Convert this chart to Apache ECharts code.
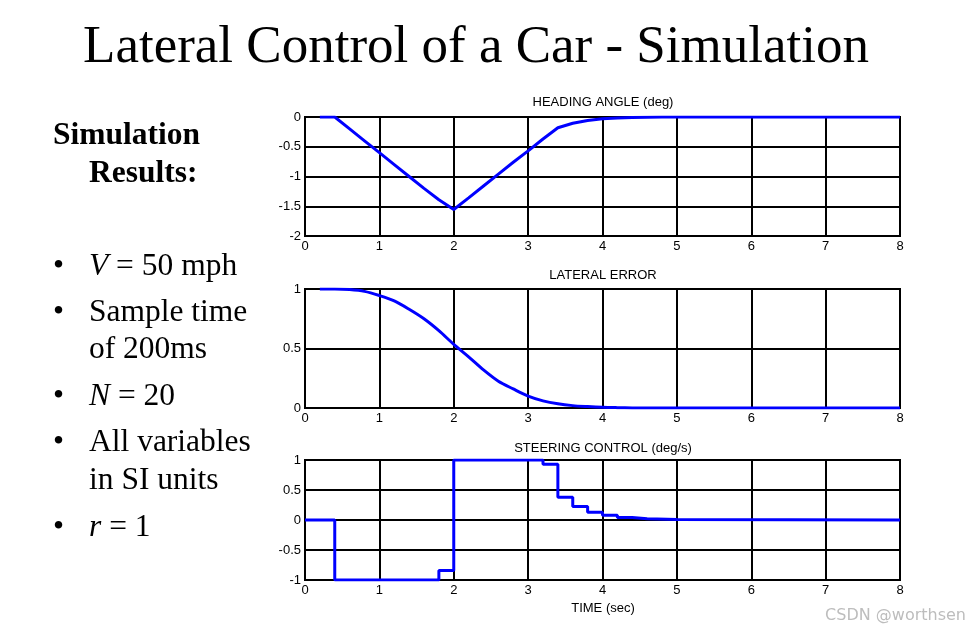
<!DOCTYPE html>
<html>
<head>
<meta charset="utf-8">
<script src="https://cdn.jsdelivr.net/npm/echarts@6/dist/echarts.min.js"></script>
<style>
html,body{margin:0;padding:0;background:#fff;}
#c{width:971px;height:632px;}
</style>
</head>
<body>
<div id="c"></div>
<script>
// ---- data ----
var xTicks = [0, 1, 2, 3, 4, 5, 6, 7, 8];

// sample times (200 ms) for heading angle and lateral error
var sampleTime = [0.2, 0.4, 0.6, 0.8, 1.0, 1.2, 1.4, 1.6, 1.8, 2.0, 2.2, 2.4, 2.6, 2.8, 3.0, 3.2, 3.4, 3.6, 3.8, 4.0, 4.2, 4.4, 4.6, 4.8, 5.0, 8.0];
var headingAngle = [0, 0, -0.2, -0.4, -0.6, -0.8, -1.0, -1.2, -1.39, -1.555, -1.36, -1.16, -0.96, -0.76, -0.57, -0.37, -0.18, -0.105, -0.06, -0.03, -0.015, -0.007, -0.003, -0.001, 0, 0];
var lateralError = [1.0, 1.0, 0.995, 0.98, 0.945, 0.9, 0.83, 0.75, 0.65, 0.535, 0.43, 0.32, 0.225, 0.16, 0.1, 0.06, 0.035, 0.02, 0.012, 0.006, 0.003, 0.001, 0, 0, 0, 0];

// steering control: value held from each time until the next
var steerTime = [0, 0.4, 1.8, 2.0, 3.2, 3.4, 3.6, 3.8, 4.0, 4.2, 4.4, 4.6, 5.0, 8.0];
var steerValue = [0, -1, -0.84, 1, 0.93, 0.38, 0.225, 0.13, 0.08, 0.04, 0.022, 0.01, 0, 0];

var plotTitles = ['HEADING ANGLE (deg)', 'LATERAL ERROR', 'STEERING CONTROL (deg/s)'];
var xAxisName = 'TIME (sec)';
var pageTitle = 'Lateral Control of a Car - Simulation';
var sideHeading = ['Simulation', 'Results:'];
var bullets = [
  ['{i|V} = 50 mph'],
  ['Sample time', 'of 200ms'],
  ['{i|N} = 20'],
  ['All variables', 'in SI units'],
  ['{i|r} = 1']
];
var watermark = 'CSDN @worthsen';

// ---- chart ----
function pairs(xs, ys) { return xs.map(function (x, i) { return [x, ys[i]]; }); }

var chart = echarts.init(document.getElementById('c'));
var SANS = 'Liberation Sans, Arial, sans-serif';
var SERIF = 'Liberation Serif, Times New Roman, serif';

var grids = [
  { left: 305, right: 71, top: 117, height: 119 },
  { left: 305, right: 71, top: 289, height: 119 },
  { left: 305, right: 71, top: 460, height: 120 }
];
var yRanges = [[-2, 0], [0, 1], [-1, 1]];

var xAxes = grids.map(function (g, i) {
  return {
    type: 'value', gridIndex: i, min: 0, max: 8, interval: 1,
    axisLine: { show: true, onZero: false, lineStyle: { color: '#000', width: 2 } },
    axisTick: { show: false },
    splitLine: { show: true, lineStyle: { color: '#000', width: 2 } },
    axisLabel: { color: '#000', fontFamily: SANS, fontSize: 13, margin: 4,
      formatter: function (v) { return xTicks.indexOf(v) >= 0 ? String(v) : ''; } }
  };
});
var yAxes = grids.map(function (g, i) {
  return {
    type: 'value', gridIndex: i, min: yRanges[i][0], max: yRanges[i][1], interval: 0.5,
    axisLine: { show: true, onZero: false, lineStyle: { color: '#000', width: 2 } },
    axisTick: { show: false },
    splitLine: { show: true, lineStyle: { color: '#000', width: 2 } },
    axisLabel: { color: '#000', fontFamily: SANS, fontSize: 13, margin: 4 }
  };
});

var lineStyle = { color: '#0000ff', width: 3 };
var series = [
  { type: 'line', xAxisIndex: 0, yAxisIndex: 0, data: pairs(sampleTime, headingAngle), showSymbol: false, lineStyle: lineStyle, animation: false },
  { type: 'line', xAxisIndex: 1, yAxisIndex: 1, data: pairs(sampleTime, lateralError), showSymbol: false, smooth: 0.3, lineStyle: lineStyle, animation: false },
  { type: 'line', xAxisIndex: 2, yAxisIndex: 2, data: pairs(steerTime, steerValue), step: 'end', showSymbol: false, lineStyle: lineStyle, animation: false }
];

var titleCenters = [102, 275, 448];
var graphic = [];
plotTitles.forEach(function (t, i) {
  graphic.push({ type: 'text', x: 603, y: titleCenters[i],
    style: { text: t, fill: '#000', font: '13px ' + SANS, textAlign: 'center', textVerticalAlign: 'middle' } });
});
graphic.push({ type: 'text', x: 603, y: 608,
  style: { text: xAxisName, fill: '#000', font: '13px ' + SANS, textAlign: 'center', textVerticalAlign: 'middle' } });

graphic.push({ type: 'text', x: 476, y: 48,
  style: { text: pageTitle, fill: '#000', font: '53px ' + SERIF, textAlign: 'center', textVerticalAlign: 'middle' } });

graphic.push({ type: 'text', x: 53, y: 136,
  style: { text: sideHeading[0], fill: '#000', font: 'bold 31.5px ' + SERIF, textAlign: 'left', textVerticalAlign: 'middle' } });
graphic.push({ type: 'text', x: 89, y: 174,
  style: { text: sideHeading[1], fill: '#000', font: 'bold 31.5px ' + SERIF, textAlign: 'left', textVerticalAlign: 'middle' } });

var lineYs = [[266.5], [312.5, 350], [396.5], [442.5, 481], [527.5]];
bullets.forEach(function (b, i) {
  graphic.push({ type: 'text', x: 53, y: lineYs[i][0],
    style: { text: '\u2022', fill: '#000', font: '31.5px ' + SERIF, textAlign: 'left', textVerticalAlign: 'middle' } });
  b.forEach(function (line, j) {
    graphic.push({ type: 'text', x: 89, y: lineYs[i][j],
      style: { text: line, fill: '#000', font: '31.5px ' + SERIF, textAlign: 'left', textVerticalAlign: 'middle',
        rich: { i: { fontStyle: 'italic', fontFamily: SERIF, fontSize: 31.5, fill: '#000' } } } });
  });
});

graphic.push({ type: 'text', x: 966, y: 616,
  style: { text: watermark, fill: '#bdbdbd', font: '16px DejaVu Sans, sans-serif', textAlign: 'right', textVerticalAlign: 'middle' } });

chart.setOption({
  backgroundColor: '#fff',
  animation: false,
  grid: grids.map(function (g) { return Object.assign({ show: true, borderColor: '#000', borderWidth: 2, backgroundColor: 'transparent' }, g); }),
  xAxis: xAxes,
  yAxis: yAxes,
  series: series,
  graphic: graphic
});
</script>
</body>
</html>
